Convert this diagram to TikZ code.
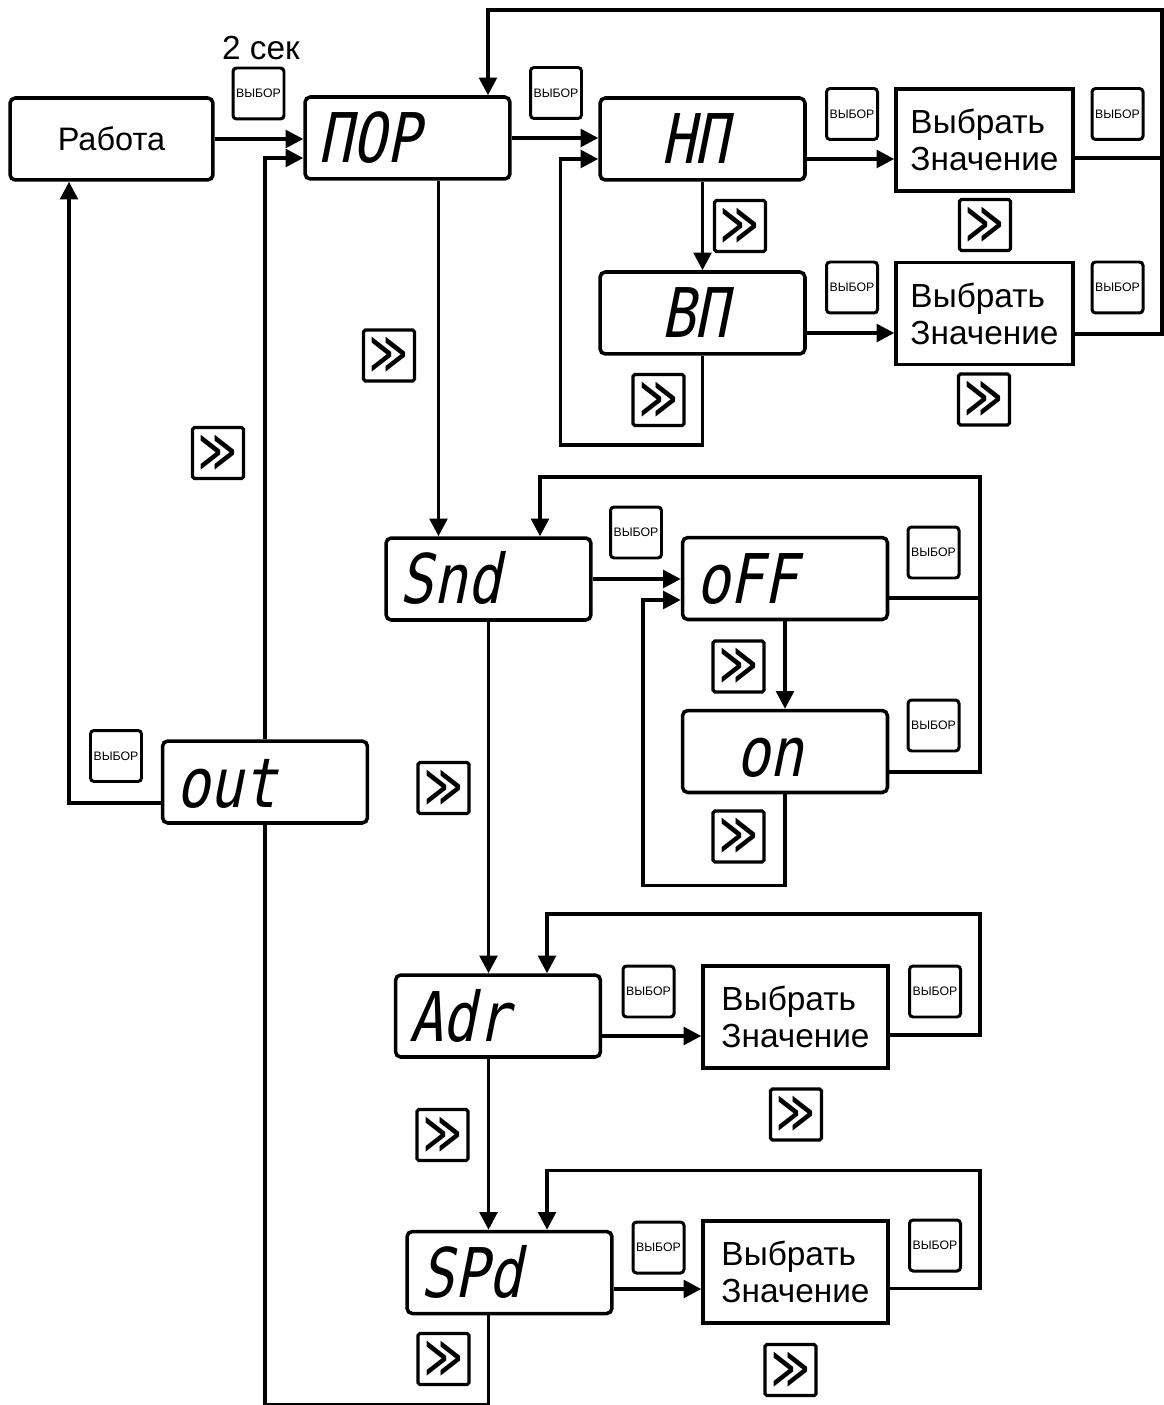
\documentclass[tikz,border=0pt]{standalone}
\usepackage{fontspec}
\setmainfont{Liberation Sans}
\newfontfamily\lcdfont[FakeSlant=0.2,FakeStretch=0.82]{DejaVu Sans Mono}
\newfontfamily\symfont{DejaVu Sans}
\usepackage{graphicx}
\usetikzlibrary{arrows.meta,positioning,calc}

\begin{document}
\begin{tikzpicture}[
    x=0.02cm, y=-0.02cm,
    line width=2pt,
    arr/.style={-{Triangle[length=10pt,width=10pt]}},
    disp/.style={draw, rounded corners=3pt, minimum width=4.1cm, minimum height=1.64cm,
        text width=3.56cm, inner xsep=0.27cm, align=left, text height=1cm, text depth=0pt,
        font=\lcdfont\fontsize{39}{39}\selectfont},
    val/.style={draw, minimum width=3.54cm, minimum height=2.04cm, align=left,
        font=\fontsize{19}{21}\selectfont},
    sel/.style={draw, rounded corners=2pt, line width=1.7pt, minimum size=1.02cm, inner sep=0pt,
        font=\fontsize{7}{7}\selectfont},
    nxt/.style={draw, rounded corners=1pt, line width=1.8pt, minimum size=1.02cm, inner sep=0pt,
        font=\symfont\fontsize{34}{34}\selectfont}
]
\useasboundingbox (0,0) rectangle (1163,1405);

% menu boxes
\node[draw, rounded corners=3pt, minimum width=4.06cm, minimum height=1.64cm,
    font=\fontsize{18.5}{21}\selectfont] (work) at (111.5,139) {Работа};
\node[font=\fontsize{19}{21}\selectfont] (sec) at (261,48) {2 сек};
\node[disp] (por) at (407.5,138) {ПОР};
\node[disp] (np) at (702.5,139) {\hspace*{0.95cm}НП};
\node[disp] (vp) at (702.5,313) {\hspace*{0.95cm}ВП};
\node[disp] (snd) at (488.5,579) {Snd};
\node[disp] (off) at (785,578.5) {oFF};
\node[disp] (on) at (785,751.5) {\hspace*{0.8cm}on};
\node[disp] (out) at (265,782) {out};
\node[disp] (adr) at (498,1016) {Adr};
\node[disp] (spd) at (509.5,1272.5) {SPd};

% value boxes
\node[val] (val1) at (984.5,140) {Выбрать\\Значение};
\node[val] (val2) at (984.5,313.5) {Выбрать\\Значение};
\node[val, minimum width=3.7cm] (val3) at (795.5,1017) {Выбрать\\Значение};
\node[val, minimum width=3.7cm] (val4) at (795.5,1272) {Выбрать\\Значение};

% buttons
\foreach \i/\x/\y in {1/258.5/93.5, 2/556/93, 3/852/114, 4/1117.5/114, 5/852/287.5,
    6/1117.5/287.5, 7/636/532.5, 8/933.5/552.5, 9/933.5/725.5, 10/116/756,
    11/648.5/991.5, 12/935/991.5, 13/658.5/1247.5, 14/935/1245.5}
    \node[sel] (s\i) at (\x,\y) {ВЫБОР};
\foreach \i/\x/\y in {1/985/225, 2/740/226, 3/984/399.5, 4/658.5/400, 5/389/355.5,
    6/218/453, 7/738.5/666.5, 8/738.5/836.5, 9/443.5/788, 10/796/1114.5,
    11/442.5/1135, 12/790.5/1370, 13/443.5/1359}
    \node[nxt] (n\i) at (\x,\y) {\scalebox{0.62}[1]{≫}};

% corners of the loops
\coordinate (topr) at ($(val1.east)+(87,-130)$);
\coordinate (npl) at ($(vp.south)+(-142,89)$);
\coordinate (sndtop) at ($(on.east)+(91,-274.5)$);
\coordinate (offl) at ($(on.south)+(-142,91)$);
\coordinate (adrtop) at ($(val3.east)+(90,-103)$);
\coordinate (spdtop) at ($(val4.east)+(90,-101.5)$);
\coordinate (bot) at ($(out.south)+(0,580)$);

% connections
\draw[arr] (work.east) -- (work.east -| por.west);
\draw[arr] (out.north) |- ([yshift=-0.4cm]por.west);
\draw[arr] ([yshift=-0.42cm]out.west) -| ([xshift=-0.85cm]work.south);
\draw[arr] (por.east) -- (por.east -| np.west);
\draw[arr] ([yshift=-0.4cm]np.east) -- ([yshift=-0.4cm]np.east -| val1.west);
\draw[arr] ([yshift=-0.4cm]vp.east) -- ([yshift=-0.4cm]vp.east -| val2.west);
\draw[arr] (np.south) -- (vp.north);
\draw[arr] (vp.south) |- (npl) |- ([yshift=-0.4cm]np.west);
\draw ([yshift=-0.36cm]val1.east) -- ([yshift=-0.36cm]val1.east -| topr);
\draw[arr] ([yshift=-0.41cm]val2.east) -| (topr) -| ([xshift=1.61cm]por.north);
\draw[arr] ([xshift=0.62cm]por.south) -- ([xshift=0.62cm]por.south |- snd.north);

\draw[arr] (snd.east) -- (snd.east -| off.west);
\draw[arr] (off.south) -- (on.north);
\draw[arr] (on.south) |- (offl) |- ([yshift=-0.43cm]off.west);
\draw ([yshift=-0.39cm]off.east) -- ([yshift=-0.39cm]off.east -| sndtop);
\draw[arr] ([yshift=-0.41cm]on.east) -| (sndtop) -| ([xshift=1.03cm]snd.north);
\draw[arr] (snd.south) -- (snd.south |- adr.north);

\draw[arr] ([yshift=-0.4cm]adr.east) -- ([yshift=-0.4cm]adr.east -| val3.west);
\draw[arr] ([yshift=-0.36cm]val3.east) -| (adrtop) -| ([xshift=0.98cm]adr.north);
\draw[arr] (snd.south |- adr.south) -- (snd.south |- spd.north);

\draw[arr] ([yshift=-0.33cm]spd.east) -- ([yshift=-0.33cm]spd.east -| val4.west);
\draw[arr] ([yshift=-0.33cm]val4.east) -| (spdtop) -| ([xshift=0.75cm]spd.north);
\draw (snd.south |- spd.south) |- (bot) -- (out.south);
\end{tikzpicture}
\end{document}
